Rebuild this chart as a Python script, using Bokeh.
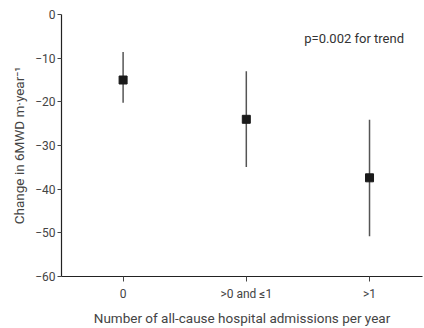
from bokeh.plotting import figure
from bokeh.models import FixedTicker, Label, Range1d
from bokeh.embed import file_html
from bokeh.resources import INLINE

categories = ["0", ">0 and \u22641", ">1"]
means = [-15.0, -24.0, -37.4]
upper = [-8.6, -13.0, -24.1]
lower = [-20.2, -34.9, -50.8]
y_ticks = [0, -10, -20, -30, -40, -50, -60]

xs = list(range(len(categories)))
FONT = "Roboto"

p = figure(width=424, height=328, output_backend="svg", toolbar_location=None,
           x_range=Range1d(-0.5, 2.43), y_range=Range1d(-60, 0),
           min_border_left=61, min_border_right=2, min_border_top=14, min_border_bottom=52)
p.outline_line_color = None
p.grid.visible = False
p.background_fill_color = "white"
p.border_fill_color = "white"

p.segment(x0=xs, y0=lower, x1=xs, y1=upper, line_color="#555555", line_width=1.5)
p.scatter(x=xs, y=means, marker="square", size=8, fill_color="#1a1a1a", line_color="#1a1a1a")

xa = p.xaxis[0]
xa.ticker = FixedTicker(ticks=xs)
xa.major_label_overrides = {i: c for i, c in enumerate(categories)}
xa.minor_tick_line_color = None
xa.major_tick_in = 0
xa.major_tick_out = 5
xa.major_tick_line_color = "#444444"
xa.axis_line_color = "#222222"
xa.axis_line_width = 1.2
xa.major_label_text_font = FONT
xa.major_label_text_font_size = "12px"
xa.major_label_text_color = "#444444"
xa.major_label_standoff = 5
xa.axis_label = "Number of all-cause hospital admissions per year"
xa.axis_label_text_font = FONT
xa.axis_label_text_font_size = "13.5px"
xa.axis_label_text_font_style = "normal"
xa.axis_label_text_color = "#444444"
xa.axis_label_standoff = 6

ya = p.yaxis[0]
ya.ticker = FixedTicker(ticks=y_ticks)
ya.minor_tick_line_color = None
ya.major_tick_in = 0
ya.major_tick_out = 4
ya.major_tick_line_color = "#444444"
ya.axis_line_color = "#222222"
ya.axis_line_width = 1.2
ya.major_label_text_font = FONT
ya.major_label_text_font_size = "12px"
ya.major_label_text_color = "#444444"
ya.major_label_standoff = 2
ya.axis_label = "Change in 6MWD m\u00b7year\u207b\u00b9"
ya.axis_label_text_font = FONT
ya.axis_label_text_font_size = "13.5px"
ya.axis_label_text_font_style = "normal"
ya.axis_label_text_color = "#444444"
ya.axis_label_standoff = 5

p.add_layout(Label(x=2.28, y=-5.5, text="p=0.002 for trend", text_align="right",
                   text_baseline="middle", text_font=FONT, text_font_size="13px",
                   text_color="#333333"))

open("out.html", "w").write(file_html(p, INLINE))
